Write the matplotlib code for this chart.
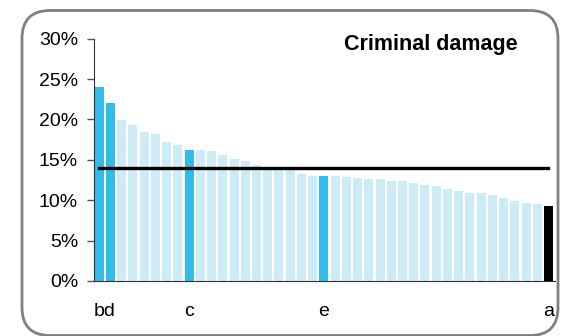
import matplotlib
matplotlib.use("Agg")
import matplotlib.pyplot as plt
from matplotlib.patches import FancyBboxPatch

# Share of offences per area, sorted descending
values = [24.0, 22.0, 19.9, 19.3, 18.4, 18.2, 17.2, 16.8, 16.2, 16.2,
          16.1, 15.6, 15.1, 14.85, 14.35, 14.0, 13.9, 13.8, 13.25, 13.0,
          13.0, 13.0, 12.85, 12.75, 12.6, 12.6, 12.4, 12.4, 12.1, 11.9,
          11.75, 11.4, 11.15, 10.9, 10.9, 10.65, 10.3, 9.9, 9.65, 9.55,
          9.3]
highlight = [0, 1, 8, 20]          # blue bars
label_pos = [0.5, 8, 20, 40]
label_text = ["bd", "c", "e", "a"]
average = 14.0
title = "Criminal damage"
y_ticks = [0, 5, 10, 15, 20, 25, 30]

light = "#cdecf8"
blue = "#33bbe9"

plt.rcParams["font.family"] = ["Liberation Sans", "DejaVu Sans"]

fig = plt.figure(figsize=(5.61, 3.36), dpi=100)
ax = fig.add_axes([0.1676, 0.1637, 0.8217, 0.7213])

colors = []
for i in range(len(values)):
    if i == len(values) - 1:
        colors.append("black")
    elif i in highlight:
        colors.append(blue)
    else:
        colors.append(light)

x = list(range(len(values)))
ax.bar(x, values, width=0.8, color=colors, zorder=2)
ax.plot([0, len(values) - 1], [average, average], color="black", lw=2.4, zorder=3)

ax.set_ylim(0, 30)
ax.set_xlim(-0.47, len(values) - 0.42)
ax.set_yticks(y_ticks)
ax.set_yticklabels([f"{t}%" for t in y_ticks], fontsize=14)
ax.set_xticks(label_pos)
ax.set_xticklabels(label_text, fontsize=14)
ax.tick_params(axis="x", length=0, pad=16)
ax.tick_params(axis="y", length=5, width=1, color="#555555", pad=6.5)

for s in ["top", "right"]:
    ax.spines[s].set_visible(False)
ax.spines["left"].set_color("#333333")
ax.spines["bottom"].set_color("#333333")

fig.text(518 / 561, 1 - 50 / 336, title, ha="right", va="baseline",
         fontsize=15.5, fontweight="bold")

# rounded frame round the whole picture
frame = FancyBboxPatch((22 / 561, 0.5 / 336), 536 / 561, 325 / 336,
                       boxstyle="round,pad=0,rounding_size=0.05",
                       transform=fig.transFigure, fill=False,
                       edgecolor="#808080", lw=2, mutation_aspect=561 / 336)
fig.patches.append(frame)

fig.savefig("out.png", dpi=100)
